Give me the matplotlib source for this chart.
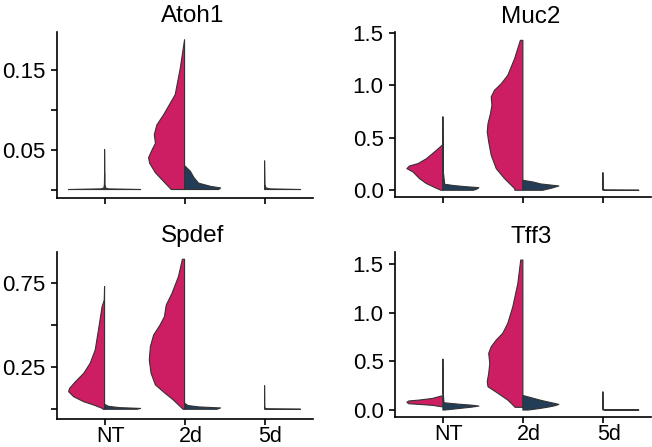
import numpy as np
import matplotlib
matplotlib.use("Agg")
import matplotlib.pyplot as plt
from matplotlib.transforms import ScaledTranslation

plt.rcParams['font.family'] = ['Liberation Sans', 'DejaVu Sans']

PINK = '#CD1E64'
NAVY = '#233D57'
EDGE = '#333333'
HALF = 0.45          # maximum half-width of each violin half (category units)

groups = ["NT", "2d", "5d"]

# Each half violin: list of (expression value, relative half-width)
# ---- Atoh1 ----
atoh1_nt_left = [(0.0, 1.0), (0.0008, 0.1), (0.002, 0.02), (0.006, 0.005), (0.02, 0.0)]
atoh1_nt_right = [(0.0, 1.0), (0.0008, 0.1), (0.002, 0.03), (0.006, 0.008), (0.05, 0.0)]
atoh1_2d_left = [(0.0, 0.37), (0.010, 0.58), (0.021, 0.81), (0.033, 0.97), (0.040, 1.0),
                 (0.050, 0.90), (0.058, 0.81), (0.069, 0.84), (0.081, 0.77), (0.094, 0.58),
                 (0.119, 0.26), (0.152, 0.12), (0.188, 0.0)]
atoh1_2d_right = [(0.0, 0.95), (0.002, 1.0), (0.004, 0.72), (0.008, 0.39), (0.015, 0.26),
                  (0.023, 0.16), (0.030, 0.0)]
atoh1_5d_left = None
atoh1_5d_right = [(0.0, 1.0), (0.0008, 0.15), (0.002, 0.04), (0.006, 0.01), (0.036, 0.0)]

# ---- Muc2 ----
muc2_nt_left = [(0.0, 0.05), (0.016, 0.16), (0.064, 0.46), (0.111, 0.65), (0.174, 0.83),
                (0.206, 1.0), (0.231, 0.93), (0.254, 0.69), (0.30, 0.46), (0.38, 0.18),
                (0.435, 0.0)]
muc2_nt_right = [(0.0, 0.85), (0.012, 0.95), (0.025, 1.0), (0.035, 0.6), (0.045, 0.3),
                 (0.057, 0.05), (0.2, 0.005), (0.70, 0.0)]
muc2_2d_left = [(0.0, 0.22), (0.016, 0.23), (0.111, 0.51), (0.206, 0.74), (0.333, 0.88),
                (0.46, 0.95), (0.555, 0.99), (0.634, 0.97), (0.730, 0.90), (0.809, 0.86),
                (0.888, 0.88), (0.951, 0.79), (1.015, 0.60), (1.094, 0.42), (1.253, 0.23),
                (1.427, 0.07)]
muc2_2d_right = [(0.0, 0.55), (0.02, 0.8), (0.041, 1.0), (0.06, 0.5), (0.079, 0.28),
                 (0.095, 0.0)]
muc2_5d_left = None
muc2_5d_right = [(0.0, 1.0), (0.002, 0.05), (0.01, 0.005), (0.168, 0.0)]

# ---- Spdef ----
spdef_nt_left = [(0.0, 0.04), (0.006, 0.07), (0.026, 0.31), (0.045, 0.58), (0.075, 0.86),
                 (0.105, 1.0), (0.125, 0.97), (0.164, 0.81), (0.214, 0.58), (0.274, 0.40),
                 (0.353, 0.26), (0.472, 0.17), (0.61, 0.07), (0.65, 0.01), (0.73, 0.0)]
spdef_nt_right = [(0.0, 0.9), (0.005, 1.0), (0.01, 0.4), (0.018, 0.1), (0.03, 0.0)]
spdef_2d_left = [(0.0, 0.04), (0.006, 0.07), (0.055, 0.31), (0.095, 0.54), (0.145, 0.81),
                 (0.214, 0.93), (0.293, 0.98), (0.373, 0.95), (0.442, 0.86), (0.502, 0.68),
                 (0.551, 0.56), (0.62, 0.51), (0.69, 0.35), (0.79, 0.17), (0.893, 0.06)]
spdef_2d_right = [(0.0, 0.9), (0.008, 1.0), (0.014, 0.4), (0.022, 0.1), (0.036, 0.0)]
spdef_5d_left = None
spdef_5d_right = [(0.0, 1.0), (0.002, 0.05), (0.01, 0.005), (0.14, 0.0)]

# ---- Tff3 ----
tff3_nt_left = [(0.034, 0.05), (0.048, 0.28), (0.058, 0.65), (0.065, 0.95), (0.08, 1.0),
                (0.093, 0.95), (0.103, 0.65), (0.12, 0.28), (0.144, 0.05)]
tff3_nt_right = [(0.0, 0.05), (0.01, 0.3), (0.02, 0.55), (0.03, 0.8), (0.041, 1.0),
                 (0.05, 0.8), (0.06, 0.45), (0.075, 0.03), (0.2, 0.005), (0.525, 0.0)]
tff3_2d_left = [(0.028, 0.22), (0.034, 0.23), (0.103, 0.42), (0.172, 0.69), (0.24, 0.97),
                (0.292, 0.99), (0.378, 0.95), (0.481, 0.92), (0.584, 0.95), (0.652, 0.88),
                (0.721, 0.74), (0.79, 0.56), (0.893, 0.42), (1.064, 0.28), (1.305, 0.14),
                (1.545, 0.06)]
tff3_2d_right = [(0.0, 0.15), (0.015, 0.45), (0.03, 0.7), (0.045, 0.9), (0.058, 1.0),
                 (0.075, 0.8), (0.1, 0.5), (0.125, 0.25), (0.15, 0.0)]
tff3_5d_left = None
tff3_5d_right = [(0.0, 1.0), (0.002, 0.05), (0.01, 0.005), (0.188, 0.0)]

# y-axis ticks and labels per gene
atoh1_yticks = [0.0, 0.05, 0.10, 0.15]
atoh1_ylabels = ["", "0.05", "", "0.15"]
muc2_yticks = [0.0, 0.5, 1.0, 1.5]
muc2_ylabels = ["0.0", "0.5", "1.0", "1.5"]
spdef_yticks = [0.0, 0.25, 0.50, 0.75]
spdef_ylabels = ["", "0.25", "", "0.75"]
tff3_yticks = [0.0, 0.5, 1.0, 1.5]
tff3_ylabels = ["0.0", "0.5", "1.0", "1.5"]

panels = [
    dict(title="Atoh1", rect=[0.0874, 0.5564, 0.3926, 0.3727], ylim=(-0.011, 0.198),
         yticks=atoh1_yticks, ylabels=atoh1_ylabels, xlabels=False,
         halves=[(atoh1_nt_left, atoh1_nt_right), (atoh1_2d_left, atoh1_2d_right),
                 (atoh1_5d_left, atoh1_5d_right)]),
    dict(title="Muc2", rect=[0.6063, 0.5586, 0.3926, 0.3690], ylim=(-0.067, 1.503),
         yticks=muc2_yticks, ylabels=muc2_ylabels, xlabels=False,
         halves=[(muc2_nt_left, muc2_nt_right), (muc2_2d_left, muc2_2d_right),
                 (muc2_5d_left, muc2_5d_right)]),
    dict(title="Spdef", rect=[0.0874, 0.0626, 0.3926, 0.3743], ylim=(-0.058, 0.938),
         yticks=spdef_yticks, ylabels=spdef_ylabels, xlabels=True,
         halves=[(spdef_nt_left, spdef_nt_right), (spdef_2d_left, spdef_2d_right),
                 (spdef_5d_left, spdef_5d_right)]),
    dict(title="Tff3", rect=[0.6063, 0.0664, 0.3926, 0.3690], ylim=(-0.075, 1.624),
         yticks=tff3_yticks, ylabels=tff3_ylabels, xlabels=True,
         halves=[(tff3_nt_left, tff3_nt_right), (tff3_2d_left, tff3_2d_right),
                 (tff3_5d_left, tff3_5d_right)]),
]


def draw_half(ax, center, profile, side, color):
    if profile is None:
        return
    y = np.array([p[0] for p in profile])
    w = np.array([p[1] for p in profile]) * HALF
    xs = np.r_[center, center + side * w, center]
    ys = np.r_[y[0], y, y[-1]]
    ax.fill(xs, ys, facecolor=color, edgecolor=EDGE, linewidth=0.8,
            joinstyle='round', zorder=2)


fig = plt.figure(figsize=(6.52, 4.47), dpi=100)

for p in panels:
    ax = fig.add_axes(p["rect"])
    for i, (left, right) in enumerate(p["halves"]):
        draw_half(ax, i, left, -1, PINK)
        draw_half(ax, i, right, +1, NAVY)
    ax.set_xlim(-0.595, 2.605)
    ax.set_ylim(*p["ylim"])
    ax.set_xticks(range(len(groups)))
    ax.set_xticklabels(groups if p["xlabels"] else [""] * len(groups))
    ax.set_yticks(p["yticks"])
    ax.set_yticklabels(p["ylabels"])
    for s in ("top", "right"):
        ax.spines[s].set_visible(False)
    for s in ("left", "bottom"):
        ax.spines[s].set_linewidth(1.2)
    ax.tick_params(axis="both", length=4, width=1.2, colors="black")
    ax.tick_params(axis="y", labelsize=16, pad=4.5)
    ax.tick_params(axis="x", labelsize=15.5, pad=1)
    ax.set_title(p["title"], fontsize=17.5, x=0.53, pad=7)
    # nudge category labels slightly to the right
    for t in ax.xaxis.get_major_ticks():
        t.label1.set_transform(t.label1.get_transform() +
                               ScaledTranslation(6 / 100, 0, fig.dpi_scale_trans))

fig.savefig("out.png", dpi=100)
